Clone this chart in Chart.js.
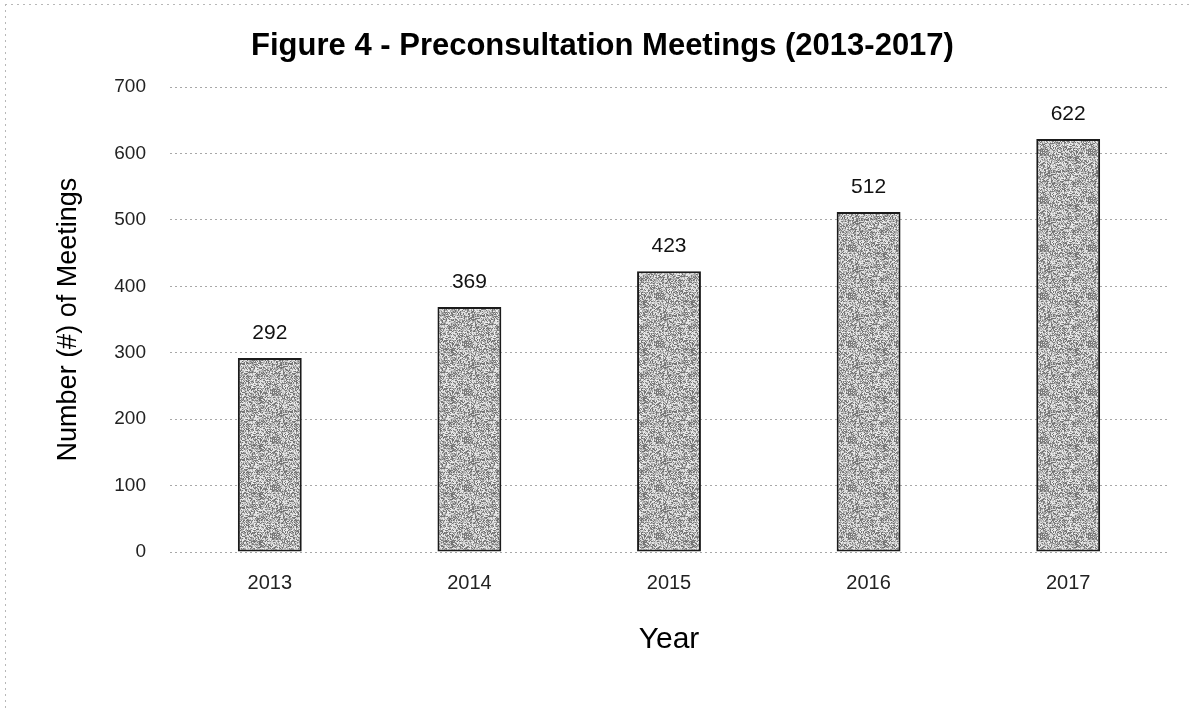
<!DOCTYPE html>
<html>
<head>
<meta charset="utf-8">
<title>Preconsultation Meetings</title>
<script src="https://cdn.jsdelivr.net/npm/chart.js@4/dist/chart.umd.min.js"></script>
<style>
  html, body { margin: 0; padding: 0; background: #fff; }
  #wrap { width: 1193px; height: 712px; }
</style>
</head>
<body>
<div id="wrap"><canvas id="meetingsChart" width="1193" height="712"></canvas></div>
<script>
// --- data ---
const years = ["2013", "2014", "2015", "2016", "2017"];
const meetings = [292, 369, 423, 512, 622];
const yTicks = [0, 100, 200, 300, 400, 500, 600, 700];

const FONT = "'Liberation Sans', Arial, sans-serif";

// stippled gray fill for the bars (deterministic noise tile)
function makeStipple() {
  const c = document.createElement("canvas");
  c.width = 48; c.height = 48;
  const g = c.getContext("2d");
  const img = g.createImageData(48, 48);
  let s = 12345;
  for (let i = 0; i < 48 * 48; i++) {
    s = (s * 1103515245 + 12345) & 0x7fffffff;
    const r = (s >> 8) % 100;
    let v;
    if (r < 32) v = 110 + (r % 25);
    else if (r < 58) v = 160 + (r % 20);
    else v = 200 + (r % 45);
    img.data[i * 4] = v;
    img.data[i * 4 + 1] = v;
    img.data[i * 4 + 2] = v;
    img.data[i * 4 + 3] = 255;
  }
  g.putImageData(img, 0, 0);
  return g.createPattern(c, "repeat");
}

// white page + faint dotted scan edge at top and left
const pageBg = {
  id: "pageBg",
  beforeDraw(chart) {
    const ctx = chart.ctx;
    ctx.save();
    ctx.fillStyle = "#fff";
    ctx.fillRect(0, 0, chart.width, chart.height);
    ctx.strokeStyle = "#b8b8b8";
    ctx.lineWidth = 1;
    ctx.setLineDash([2, 4]);
    ctx.beginPath();
    ctx.moveTo(5, 4.5); ctx.lineTo(chart.width, 4.5);
    ctx.moveTo(5.5, 4); ctx.lineTo(5.5, chart.height);
    ctx.stroke();
    ctx.restore();
  }
};

// value labels above each bar
const valueLabels = {
  id: "valueLabels",
  afterDatasetsDraw(chart) {
    const ctx = chart.ctx;
    const meta = chart.getDatasetMeta(0);
    ctx.save();
    ctx.font = "21px " + FONT;
    ctx.fillStyle = "#111";
    ctx.textAlign = "center";
    ctx.textBaseline = "alphabetic";
    meta.data.forEach((bar, i) => {
      ctx.fillText(String(meetings[i]), bar.x, bar.y - 19);
    });
    ctx.restore();
  }
};

const ctx = document.getElementById("meetingsChart").getContext("2d");

new Chart(ctx, {
  type: "bar",
  data: {
    labels: years,
    datasets: [
      {
        data: meetings,
        backgroundColor: makeStipple(),
        borderColor: "#1b1b1b",
        borderWidth: 2,
        borderSkipped: false,
        barPercentage: 0.32,
        categoryPercentage: 1,
      },
    ],
  },
  options: {
    responsive: false,
    animation: false,
    layout: { padding: { left: 12, right: 0, top: 0, bottom: 0 } },
    plugins: {
      legend: { display: false },
      tooltip: { enabled: false },
      title: {
        display: true,
        text: "Figure 4 - Preconsultation Meetings (2013-2017)",
        color: "#000",
        font: { family: FONT, size: 31, weight: "bold" },
        padding: { top: 28, bottom: 22 },
      },
    },
    scales: {
      x: {
        grid: { display: false, drawTicks: false },
        border: { display: false },
        ticks: { color: "#222", font: { family: FONT, size: 20 }, padding: 19 },
        title: {
          display: true,
          text: "Year",
          color: "#000",
          font: { family: FONT, size: 30 },
          padding: { top: 10, bottom: 54 },
        },
        afterFit(scale) { scale.height = 160; },
      },
      y: {
        min: 0,
        max: 700,
        afterBuildTicks(scale) { scale.ticks = yTicks.map((v) => ({ value: v })); },
        grid: {
          color: "#a8a8a8",
          lineWidth: 1,
          drawTicks: false,
        },
        border: { display: false, dash: [2, 3] },
        ticks: { color: "#222", font: { family: FONT, size: 19 }, padding: 24 },
        title: {
          display: true,
          text: "Number (#) of Meetings",
          color: "#000",
          font: { family: FONT, size: 27 },
          padding: { top: 40, bottom: 0 },
        },
        afterFit(scale) { scale.width = 158; },
      },
      // empty strip on the right so the plot stops short of the edge
      yRight: {
        position: "right",
        display: true,
        grid: { display: false, drawTicks: false },
        border: { display: false },
        ticks: { display: false },
        afterFit(scale) { scale.width = 25; },
      },
    },
  },
  plugins: [pageBg, valueLabels],
});
</script>
</body>
</html>
